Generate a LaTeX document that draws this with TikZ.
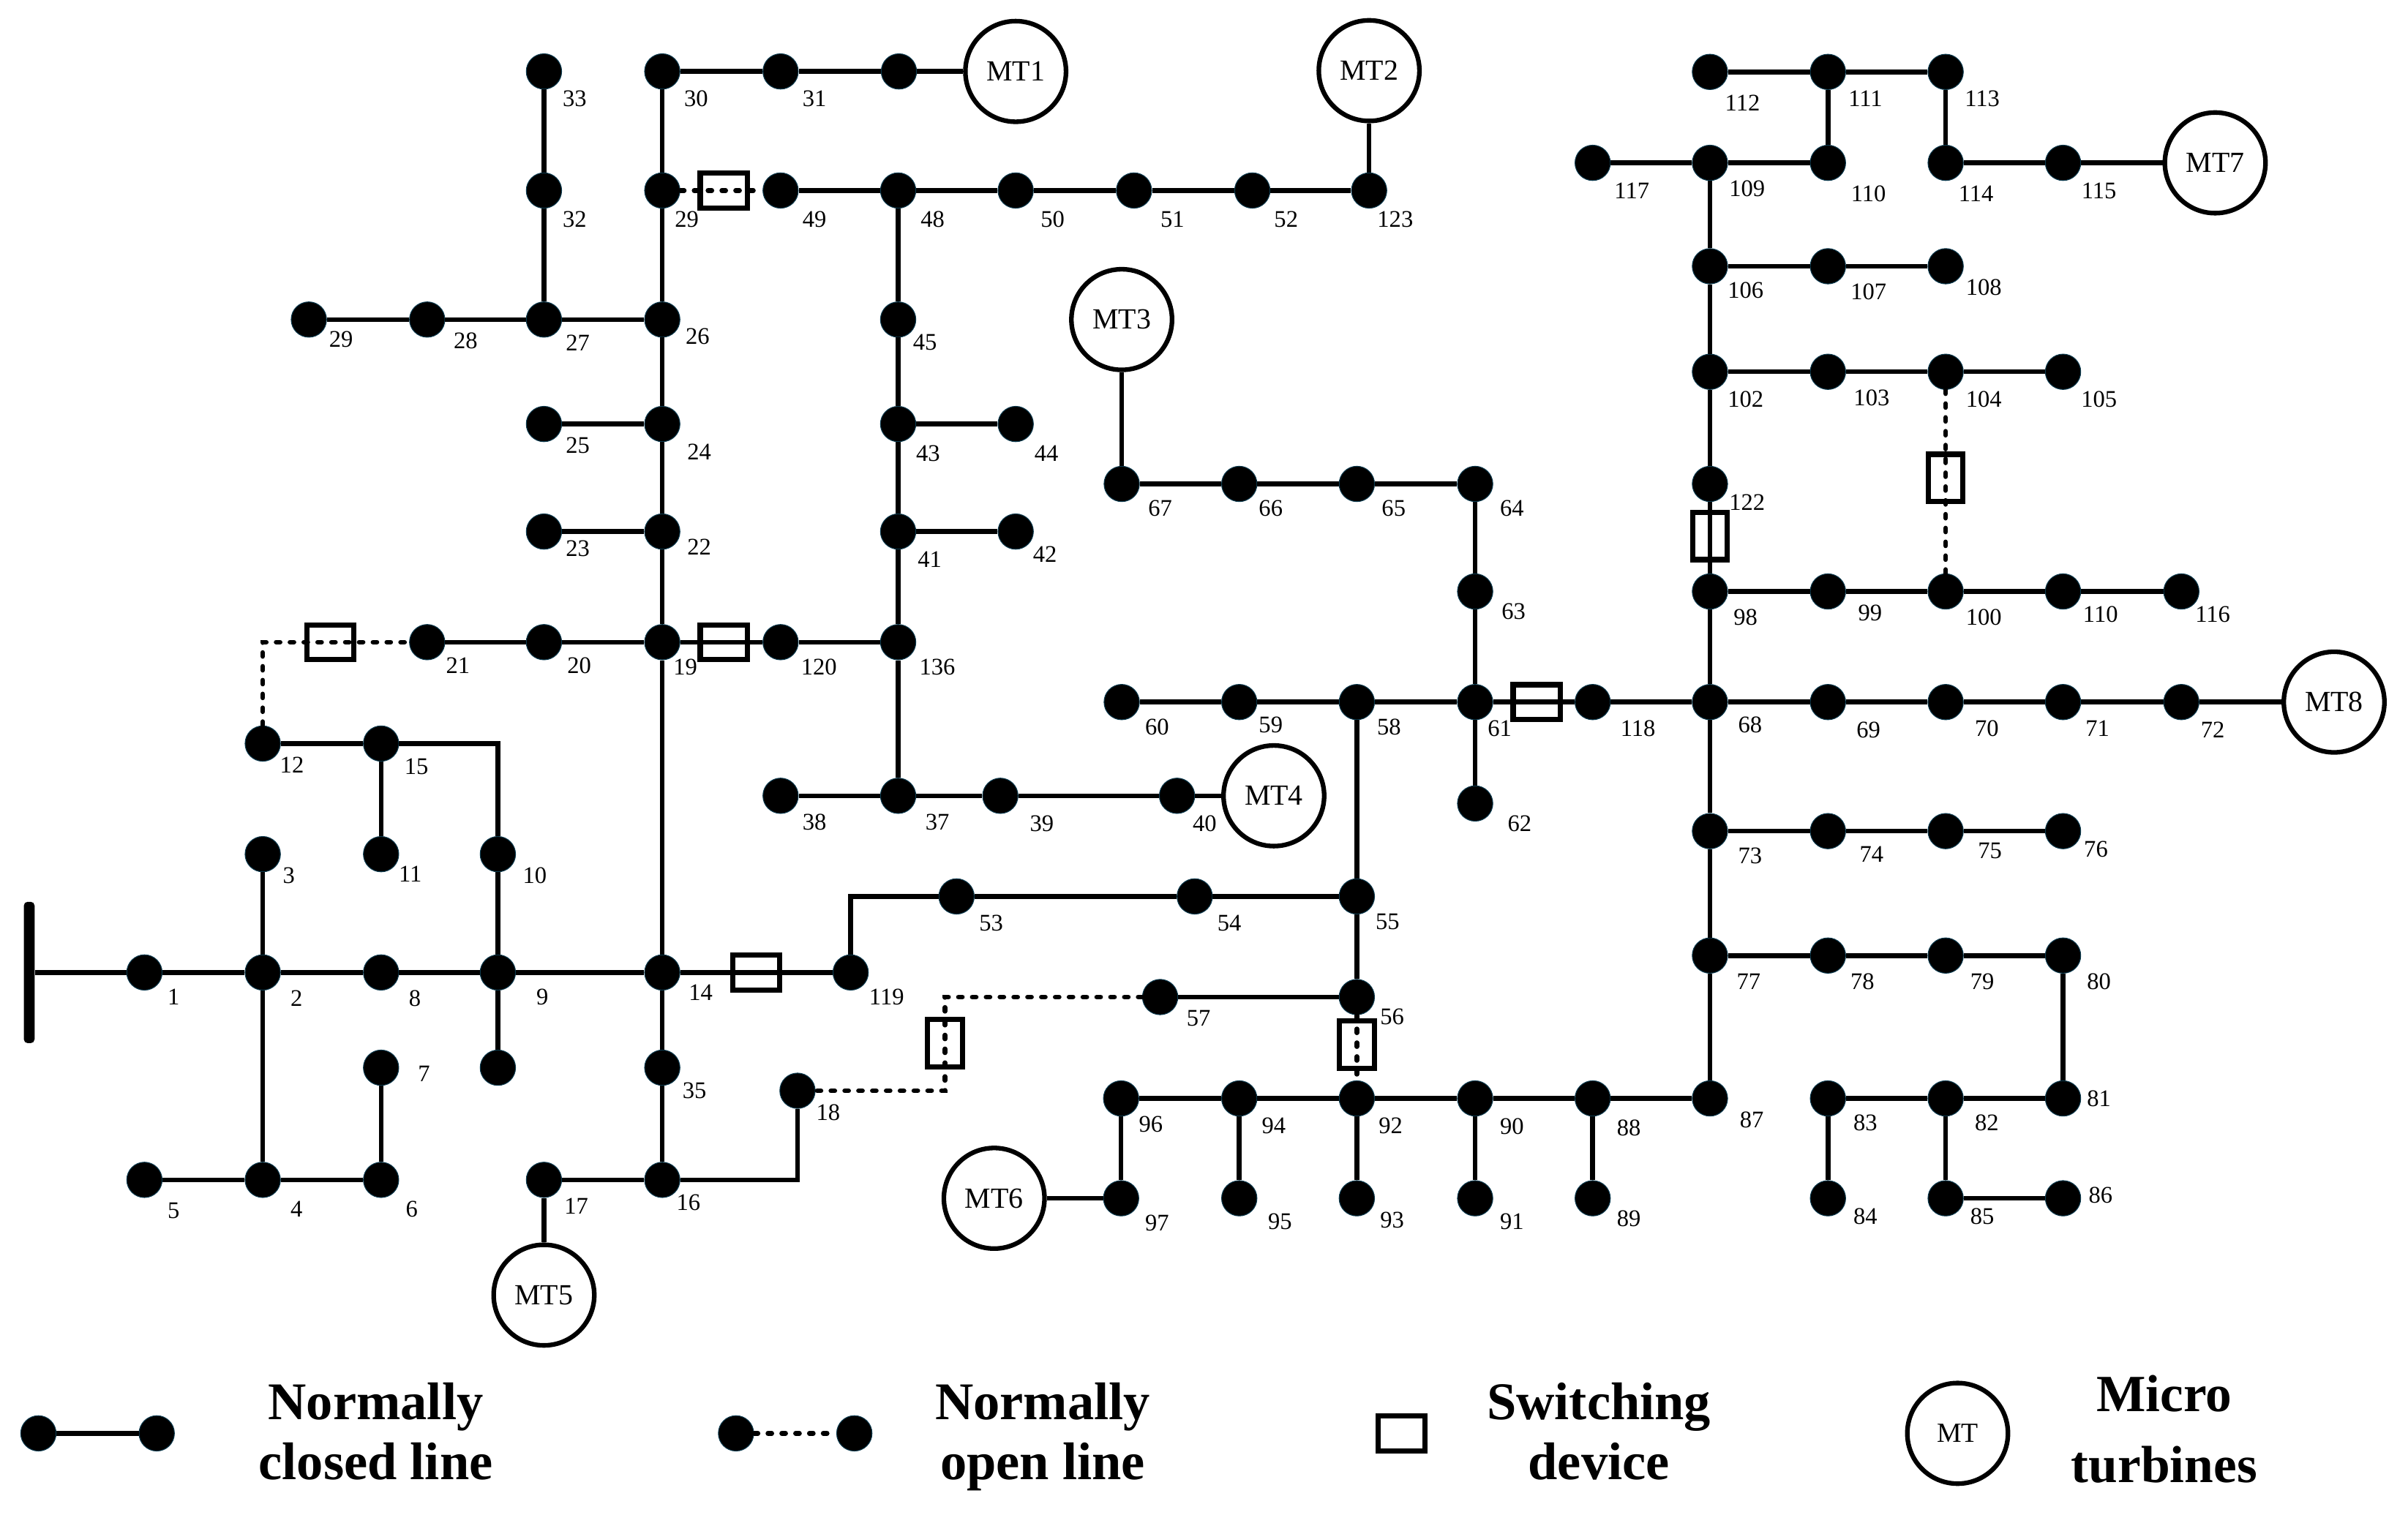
\documentclass[tikz,border=0pt]{standalone}
\usepackage{fontspec}
\setmainfont{Liberation Serif}
\definecolor{busrim}{HTML}{0B3A4E}
\tikzset{
  bus/.style={circle,fill=black,draw=busrim,line width=0.5pt,inner sep=0pt,minimum size=23pt},
  lab/.style={inner sep=0pt,font=\fontsize{15.5}{15.5}\selectfont},
  wire/.style={line width=3.1pt,black},
  openwire/.style={line width=3.1pt,black,line cap=round,dash pattern=on 2.5pt off 6.5pt},
  swh/.style={draw=black,line width=3.4pt,inner sep=0pt,minimum width=30.6pt,minimum height=22.6pt},
  swv/.style={draw=black,line width=3.4pt,inner sep=0pt,minimum width=22.6pt,minimum height=30.6pt},
  mt/.style={circle,draw=black,fill=white,line width=3pt,inner sep=0pt,minimum size=65.5pt,font=\fontsize{19}{19}\selectfont},
  legendtext/.style={inner sep=0pt,align=center,font=\fontsize{34.5}{39}\selectfont\bfseries},
  bar/.style={fill=black,rounded corners=2.5pt,inner sep=0pt,minimum width=7pt,minimum height=92pt},
}
\newcommand{\bn}[6]{\node[bus] (n#1) at (#2,#3) {};\node[lab] (l#1) at (#5,#6) {#4};}
\begin{document}
\begin{tikzpicture}[x=1pt,y=-1pt]
\useasboundingbox (0,0) rectangle (1567.1,985.7);
% source bar
\node[bar] (bar) at (19,633) {};
% left area
\bn{1}{94}{633}{1}{113}{649}
\bn{2}{171}{633}{2}{193}{650}
\bn{8}{248}{633}{8}{270}{650}
\bn{9}{324}{633}{9}{353}{649}
\bn{14}{431}{633}{14}{456}{646}
\bn{119}{553.6}{633}{119}{577}{649}
\bn{3}{171}{556}{3}{188}{570}
\bn{11}{248}{556}{11}{267}{569}
\bn{10}{324}{556}{10}{348}{570}
\bn{12}{171}{484}{12}{190}{498}
\bn{15}{248}{484}{15}{271}{499}
\bn{7}{248}{695}{7}{276}{699}
\node[bus] (nx) at (324,695) {};
\bn{35}{431}{695}{35}{452}{710}
\bn{16}{431}{768}{16}{448}{783}
\bn{17}{354}{768}{17}{375}{785}
\bn{5}{94}{768}{5}{113}{788}
\bn{4}{171}{768}{4}{193}{787}
\bn{6}{248}{768}{6}{268}{787}
\bn{18}{519}{710}{18}{539}{724}
\bn{21}{278}{418}{21}{298}{433}
\bn{20}{354}{418}{20}{377}{433}
\bn{19}{431}{418}{19}{446}{434}
\bn{120}{508}{418}{120}{533}{434}
\bn{136}{584.5}{418}{136}{610}{434}
\bn{38}{508}{518}{38}{530}{535}
\bn{37}{584.5}{518}{37}{610}{535}
\bn{39}{651}{518}{39}{678}{536}
\bn{40}{766}{518}{40}{784}{536}
\bn{22}{431}{346}{22}{455}{356}
\bn{23}{354}{346}{23}{376}{357}
\bn{24}{431}{276}{24}{455}{294}
\bn{25}{354}{276}{25}{376}{290}
\bn{26}{431}{208}{26}{454}{219}
\bn{27}{354}{208}{27}{376}{223}
\bn{28}{278}{208}{28}{303}{222}
\bn{29b}{201}{208}{29}{222}{221}
\bn{32}{354}{124}{32}{374}{143}
\bn{33}{354}{46.5}{33}{374}{64}
\bn{29}{431}{124}{29}{447}{143}
\bn{30}{431}{46.5}{30}{453}{64}
\bn{31}{508}{46.5}{31}{530}{64}
\node[bus] (ny) at (585,46.5) {};
\bn{49}{508}{124}{49}{530}{143}
\bn{48}{584.5}{124}{48}{607}{143}
\bn{50}{661}{124}{50}{685}{143}
\bn{51}{738}{124}{51}{763}{143}
\bn{52}{815}{124}{52}{837}{143}
\bn{123}{891}{124}{123}{908}{143}
\bn{45}{584.5}{208}{45}{602}{223}
\bn{43}{584.5}{276}{43}{604}{295}
\bn{44}{661}{276}{44}{681}{295}
\bn{41}{584.5}{346}{41}{605}{364}
\bn{42}{661}{346}{42}{680}{361}
% centre
\bn{67}{730}{315}{67}{755}{331}
\bn{66}{806.5}{315}{66}{827}{331}
\bn{65}{883}{315}{65}{907}{331}
\bn{64}{960}{315}{64}{984}{331}
\bn{63}{960}{385}{63}{985}{398}
\bn{61}{960}{457}{61}{976}{474}
\bn{58}{883}{457}{58}{904}{473}
\bn{59}{806.5}{457}{59}{827}{472}
\bn{60}{730}{457}{60}{753}{473}
\bn{62}{960}{523}{62}{989}{536}
\bn{118}{1036.5}{457}{118}{1066}{474}
\bn{68}{1112.8}{457}{68}{1139}{472}
\bn{69}{1189.6}{457}{69}{1216}{475}
\bn{70}{1266.2}{457}{70}{1293}{474}
\bn{71}{1342.6}{457}{71}{1365}{474}
\bn{72}{1419.6}{457}{72}{1440}{475}
\bn{55}{883}{583.5}{55}{903}{600}
\bn{54}{777.5}{583.5}{54}{800}{601}
\bn{53}{622.5}{583.5}{53}{645}{601}
\bn{56}{883}{649}{56}{906}{662}
\bn{57}{755}{649}{57}{780}{663}
\bn{96}{729.6}{715}{96}{749}{732}
\bn{94}{806.5}{715}{94}{829}{733}
\bn{92}{883}{715}{92}{905}{733}
\bn{90}{960}{715}{90}{984}{733}
\bn{88}{1036.5}{715}{88}{1060}{734}
\bn{87}{1112.8}{715}{87}{1140}{729}
\bn{97}{729.6}{780}{97}{753}{796}
\bn{95}{806.5}{780}{95}{833}{795}
\bn{93}{883}{780}{93}{906}{794}
\bn{91}{960}{780}{91}{984}{795}
\bn{89}{1036.5}{780}{89}{1060}{793}
% right
\bn{77}{1112.8}{622}{77}{1138}{639}
\bn{78}{1189.6}{622}{78}{1212}{639}
\bn{79}{1266.2}{622}{79}{1290}{639}
\bn{80}{1342.6}{622}{80}{1366}{639}
\bn{73}{1112.8}{541}{73}{1139}{557}
\bn{74}{1189.6}{541}{74}{1218}{556}
\bn{75}{1266.2}{541}{75}{1295}{554}
\bn{76}{1342.6}{541}{76}{1364}{553}
\bn{81}{1342.6}{715}{81}{1366}{715}
\bn{82}{1266.2}{715}{82}{1293}{731}
\bn{83}{1189.6}{715}{83}{1214}{731}
\bn{84}{1189.6}{780}{84}{1214}{792}
\bn{85}{1266.2}{780}{85}{1290}{792}
\bn{86}{1342.6}{780}{86}{1367}{778}
\bn{98}{1112.8}{385}{98}{1136}{402}
\bn{99}{1189.6}{385}{99}{1217}{399}
\bn{100}{1266.2}{385}{100}{1291}{402}
\bn{110b}{1342.6}{385}{110}{1367}{400}
\bn{116}{1419.6}{385}{116}{1440}{400}
\bn{122}{1112.8}{315}{122}{1137}{327}
\bn{102}{1112.8}{242}{102}{1136}{260}
\bn{103}{1189.6}{242}{103}{1218}{259}
\bn{104}{1266.2}{242}{104}{1291}{260}
\bn{105}{1342.6}{242}{105}{1366}{260}
\bn{106}{1112.8}{173.3}{106}{1136}{189}
\bn{107}{1189.6}{173.3}{107}{1216}{190}
\bn{108}{1266.2}{173.3}{108}{1291}{187}
\bn{109}{1112.8}{106}{109}{1137}{123}
\bn{110}{1189.6}{106}{110}{1216}{126}
\bn{117}{1036.5}{106}{117}{1062}{124}
\bn{112}{1112.8}{46.8}{112}{1134}{67}
\bn{111}{1189.6}{46.8}{111}{1214}{64}
\bn{113}{1266.2}{46.8}{113}{1290}{64}
\bn{114}{1266.2}{106}{114}{1286}{126}
\bn{115}{1342.6}{106}{115}{1366}{124}
% micro turbines
\node[mt] (mt1) at (661,46.5) {MT1};
\node[mt] (mt2) at (891,46) {MT2};
\node[mt] (mt3) at (730,208) {MT3};
\node[mt] (mt4) at (829,518) {MT4};
\node[mt] (mt5) at (354,843) {MT5};
\node[mt] (mt6) at (647,780) {MT6};
\node[mt] (mt7) at (1441.6,106) {MT7};
\node[mt] (mt8) at (1519,457) {MT8};
% switches
\node[swh] (s1) at (215,418) {};
\node[swh] (s2) at (471,418) {};
\node[swh] (s3) at (471,124) {};
\node[swh] (s4) at (492,633) {};
\node[swh] (s5) at (1000,457) {};
\node[swv] (s6) at (615,679) {};
\node[swv] (s7) at (883,680) {};
\node[swv] (s8) at (1112.8,349) {};
\node[swv] (s9) at (1266.2,311) {};
\coordinate (c1) at (615,649);
\coordinate (c2) at (615,710);
% closed lines
\draw[wire] (bar) -- (n1) -- (n2) -- (n8) -- (n9) -- (n14) -- (n119);
\draw[wire] (n3) -- (n2) -- (n4);
\draw[wire] (n5) -- (n4) -- (n6) -- (n7);
\draw[wire] (n12) -- (n15) -| (n10);
\draw[wire] (n10) -- (n9) -- (nx);
\draw[wire] (n15) -- (n11);
\draw[wire] (n14) -- (n35) -- (n16) -- (n17) -- (mt5);
\draw[wire] (n16) -| (n18);
\draw[wire] (n119) |- (n53);
\draw[wire] (n53) -- (n54) -- (n55) -- (n56);
\draw[wire] (n55) -- (n58);
\draw[wire] (n14) -- (n19) -- (n22) -- (n24) -- (n26) -- (n29) -- (n30) -- (n31) -- (ny) -- (mt1);
\draw[wire] (n21) -- (n20) -- (n19) -- (n120) -- (n136);
\draw[wire] (n23) -- (n22);
\draw[wire] (n25) -- (n24);
\draw[wire] (n29b) -- (n28) -- (n27) -- (n26);
\draw[wire] (n33) -- (n32) -- (n27);
\draw[wire] (n49) -- (n48) -- (n50) -- (n51) -- (n52) -- (n123) -- (mt2);
\draw[wire] (n48) -- (n45) -- (n43) -- (n41) -- (n136) -- (n37);
\draw[wire] (n43) -- (n44);
\draw[wire] (n41) -- (n42);
\draw[wire] (n38) -- (n37) -- (n39) -- (n40) -- (mt4);
\draw[wire] (mt3) -- (n67) -- (n66) -- (n65) -- (n64) -- (n63) -- (n61) -- (n62);
\draw[wire] (n60) -- (n59) -- (n58) -- (n61) -- (n118) -- (n68) -- (n69) -- (n70) -- (n71) -- (n72) -- (mt8);
\draw[wire] (n57) -- (n56);
\draw[wire] (n97) -- (n96) -- (n94) -- (n92) -- (n90) -- (n88) -- (n87) -- (n77) -- (n73) -- (n68) -- (n98) -- (n122) -- (n102) -- (n106) -- (n109);
\draw[wire] (mt6) -- (n97);
\draw[wire] (n94) -- (n95);
\draw[wire] (n92) -- (n93);
\draw[wire] (n90) -- (n91);
\draw[wire] (n88) -- (n89);
\draw[wire] (n73) -- (n74) -- (n75) -- (n76);
\draw[wire] (n77) -- (n78) -- (n79) -- (n80) -- (n81) -- (n82) -- (n83) -- (n84);
\draw[wire] (n82) -- (n85) -- (n86);
\draw[wire] (n98) -- (n99) -- (n100) -- (n110b) -- (n116);
\draw[wire] (n102) -- (n103) -- (n104) -- (n105);
\draw[wire] (n106) -- (n107) -- (n108);
\draw[wire] (n117) -- (n109) -- (n110) -- (n111);
\draw[wire] (n112) -- (n111) -- (n113) -- (n114) -- (n115) -- (mt7);
% open lines
\draw[openwire] (n12) |- (n21);
\draw[openwire] (n29) -- (n49);
\draw[openwire] (n57) -- (c1) -- (c2) -- (n18);
\draw[openwire] (n56) -- (n92);
\draw[openwire] (n104) -- (n100);
% legend
\node[bus] (la) at (25,933) {};
\node[bus] (lb) at (102,933) {};
\draw[wire] (la) -- (lb);
\node[legendtext] (t1) at (244.5,935.7) {Normally\strut\\closed line\strut};
\node[bus] (lc) at (479,933) {};
\node[bus] (ld) at (556,933) {};
\draw[openwire] (lc) -- (ld);
\node[legendtext] (t2) at (678.5,935.7) {Normally\strut\\open line\strut};
\node[swh] (ls) at (912,933) {};
\node[legendtext] (t3) at (1040.5,935.7) {Switching\strut\\device\strut};
\node[mt,font=\fontsize{18}{18}\selectfont] (lm) at (1274,933) {MT};
\node[legendtext,font=\fontsize{34}{46}\selectfont\bfseries] (t4) at (1408.5,932.8) {Micro\strut\\turbines\strut};
\end{tikzpicture}
\end{document}
